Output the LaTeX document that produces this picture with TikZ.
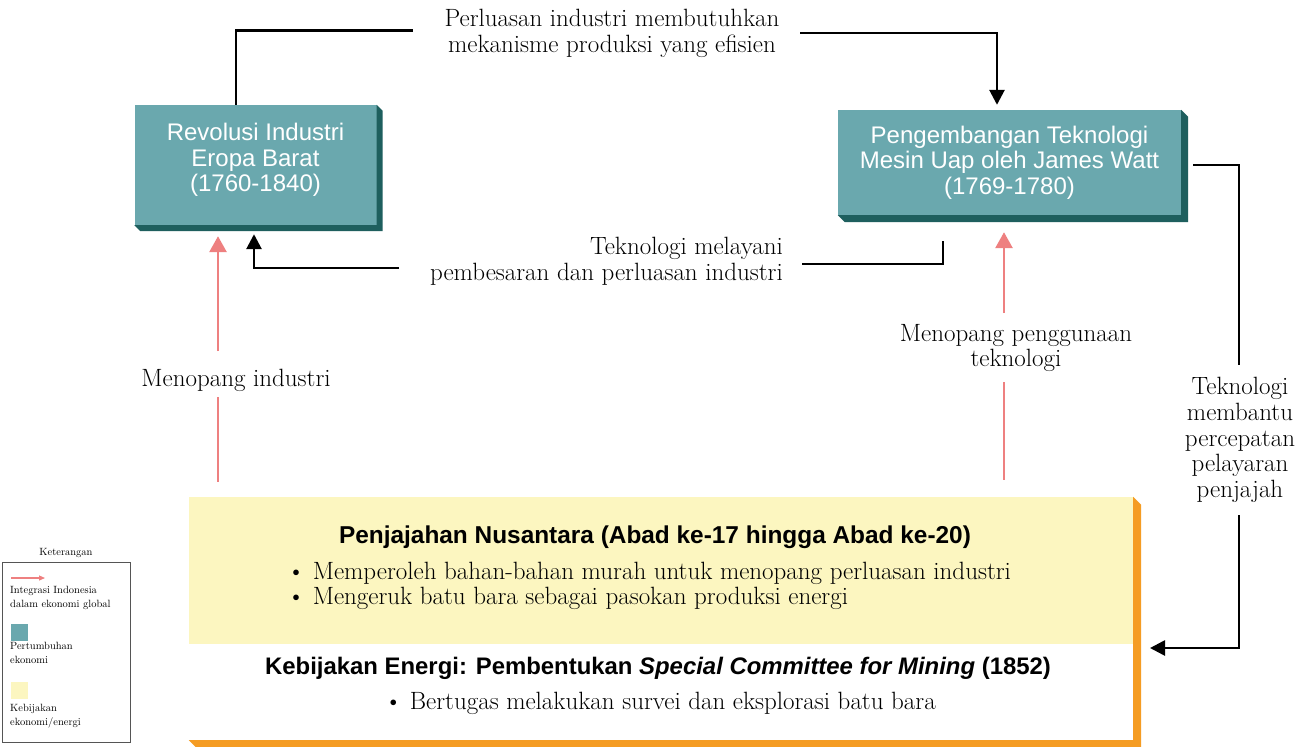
\documentclass[tikz,border=0pt]{standalone}
\usepackage{fontspec}
\newfontfamily\boxfont{Liberation Sans}
\usetikzlibrary{arrows.meta,calc}
\definecolor{tealface}{HTML}{6AA8AE}
\definecolor{tealshadow}{HTML}{1E5F5E}
\definecolor{yel}{HTML}{FCF6C0}
\definecolor{orng}{HTML}{F59C23}
\definecolor{pinkarr}{HTML}{EE8080}
\definecolor{legline}{HTML}{555555}
\begin{document}
\begin{tikzpicture}[x=1pt,y=-1pt,
  blk/.style={line width=2.7pt, black},
  pnk/.style={line width=2.8pt, pinkarr},
  blkhead/.style={-{Triangle[length=15pt,width=15pt]}},
  pnkhead/.style={-{Triangle[length=16pt,width=17pt]}},
  tealbox/.style={fill=tealface, inner sep=0pt, text=white, align=center,
    font=\boxfont\fontsize{24}{25.5}\selectfont},
  lbl/.style={inner sep=0pt, font=\fontsize{25}{25.8}\selectfont},
  bul/.style={inner sep=0pt, anchor=west, font=\fontsize{25}{25.8}\selectfont},
  ttl/.style={inner sep=0pt, font=\boxfont\bfseries\fontsize{24.4}{26}\selectfont},
  legtxt/.style={inner sep=0pt, anchor=north west, align=left, font=\fontsize{10.5}{14.2}\selectfont}]
\useasboundingbox (0,0) rectangle (1302,747);
\fill[white] (0,0) rectangle (1302,747);

% ---------- teal boxes ----------
\node[tealbox, minimum width=242pt, minimum height=120pt] (rev) at (255.5,165) {};
\node[inner sep=0pt, text=white, align=center, font=\boxfont\fontsize{24}{25.5}\selectfont] (revt) at (255.5,160) {Revolusi Industri\\Eropa Barat\\(1760-1840)};
\fill[tealshadow] (rev.north east) -- ++(6,6) -- ($(rev.south east)+(6,6)$) -- ($(rev.south west)+(6,6)$) -- (rev.south west) -- (rev.south east) -- cycle;

\node[tealbox, minimum width=343pt, minimum height=105pt] (pgm) at (1009.5,162.5) {Pengembangan Teknologi\\Mesin Uap oleh James Watt\\(1769-1780)};
\fill[tealshadow] (pgm.north east) -- ++(7,7) -- ($(pgm.south east)+(7,7)$) -- ($(pgm.south west)+(7,7)$) -- (pgm.south west) -- (pgm.south east) -- cycle;

% ---------- yellow / white box ----------
\node[fill=yel, inner sep=0pt, minimum width=944pt, minimum height=147pt] (col) at (661,570.5) {};
\node[fill=white, inner sep=0pt, minimum width=944pt, minimum height=96pt] (pol) at (661,692) {};
\fill[orng] (col.north east) -- ++(8,8) -- ($(pol.south east)+(8,8)$) -- ($(pol.south west)+(8,8)$) -- (pol.south west) -- (pol.south east) -- cycle;

\node[ttl] (colt) at (655,537) {Penjajahan Nusantara (Abad ke-17 hingga Abad ke-20)};
\node[bul] (b1) at (287,573) {\textbullet\ Memperoleh bahan-bahan murah untuk menopang perluasan industri};
\node[bul] (b2) at (287,598) {\textbullet\ Mengeruk batu bara sebagai pasokan produksi energi};
\node[ttl, font=\boxfont\bfseries\fontsize{23.9}{26}\selectfont] (polt) at (658,668) {Kebijakan Energi: Pembentukan \textit{Special Committee for Mining} (1852)};
\node[lbl] (b3) at (660,703) {\textbullet\ Bertugas melakukan survei dan eksplorasi batu bara};

% ---------- labels ----------
\node[lbl, align=center] (t1) at (612,33) {Perluasan industri membutuhkan\\mekanisme produksi yang efisien};
\node[lbl, align=right, anchor=east] (t2) at (783,261) {Teknologi melayani\\pembesaran dan perluasan industri};
\node[lbl] (t3) at (236,380) {Menopang industri};
\node[lbl, align=center] (t4) at (1016,348) {Menopang penggunaan\\teknologi};
\node[lbl, align=center] (t5) at (1240,440) {Teknologi\\membantu\\percepatan\\pelayaran\\penjajah};

% ---------- black connectors ----------
\coordinate (a1) at (236,30.5);
\coordinate (a2) at (413,30.5);
\coordinate (a3) at (800,33);
\coordinate (a4) at (997,33);
\draw[blk] (rev.north -| a1) -- (a1) -- (a2);
\draw[blk, blkhead, shorten >=5pt] (a3) -- (a4) -- (pgm.north -| a4);

\coordinate (m1) at (943,241);
\coordinate (m2) at (943,264);
\coordinate (m3) at (802,264);
\coordinate (m4) at (399,268);
\coordinate (m5) at (254,268);
\draw[blk] (m1) -- (m2) -- (m3);
\draw[blk, blkhead, shorten >=9pt] (m4) -- (m5) -- (rev.south -| m5);

\coordinate (r0) at (1193,165);
\coordinate (r1) at (1239,165);
\coordinate (r2) at (1239,365);
\coordinate (r3) at (1239,515);
\coordinate (r4) at (1239,648);
\coordinate (r5) at (1150,648);
\draw[blk] (r0) -- (r1) -- (r2);
\draw[blk, blkhead] (r3) -- (r4) -- (r5);

% ---------- pink connectors ----------
\coordinate (p1) at (218,397);
\coordinate (p2) at (218,351);
\draw[pnk] (col.north -| p1) ++(0,-15) -- (p1);
\draw[pnk, pnkhead, shorten >=11pt] (p2) -- (rev.south -| p2);
\coordinate (q1) at (1004,382);
\coordinate (q2) at (1004,313);
\draw[pnk] (col.north -| q1) ++(0,-17) -- (q1);
\draw[pnk, pnkhead, shorten >=17pt] (q2) -- (pgm.south -| q2);

% ---------- legend ----------
\node[inner sep=0pt, font=\fontsize{10.5}{11}\selectfont] (legt) at (66,553) {Keterangan};
\draw[legline, line width=1pt] (2,562) rectangle (130,742);
\coordinate (l1) at (11,578);
\coordinate (l2) at (45,578);
\draw[pinkarr, line width=1.2pt, -{Triangle[length=6pt,width=5pt]}] (l1) -- (l2);
\node[legtxt] (lt1) at (10,586) {Integrasi Indonesia\\dalam ekonomi global};
\fill[tealface] (11,624) rectangle (28,641);
\node[legtxt] (lt2) at (10,642) {Pertumbuhan\\ekonomi};
\fill[yel] (11,682) rectangle (28,699);
\node[legtxt] (lt3) at (10,704) {Kebijakan\\ekonomi/energi};
\end{tikzpicture}
\end{document}
